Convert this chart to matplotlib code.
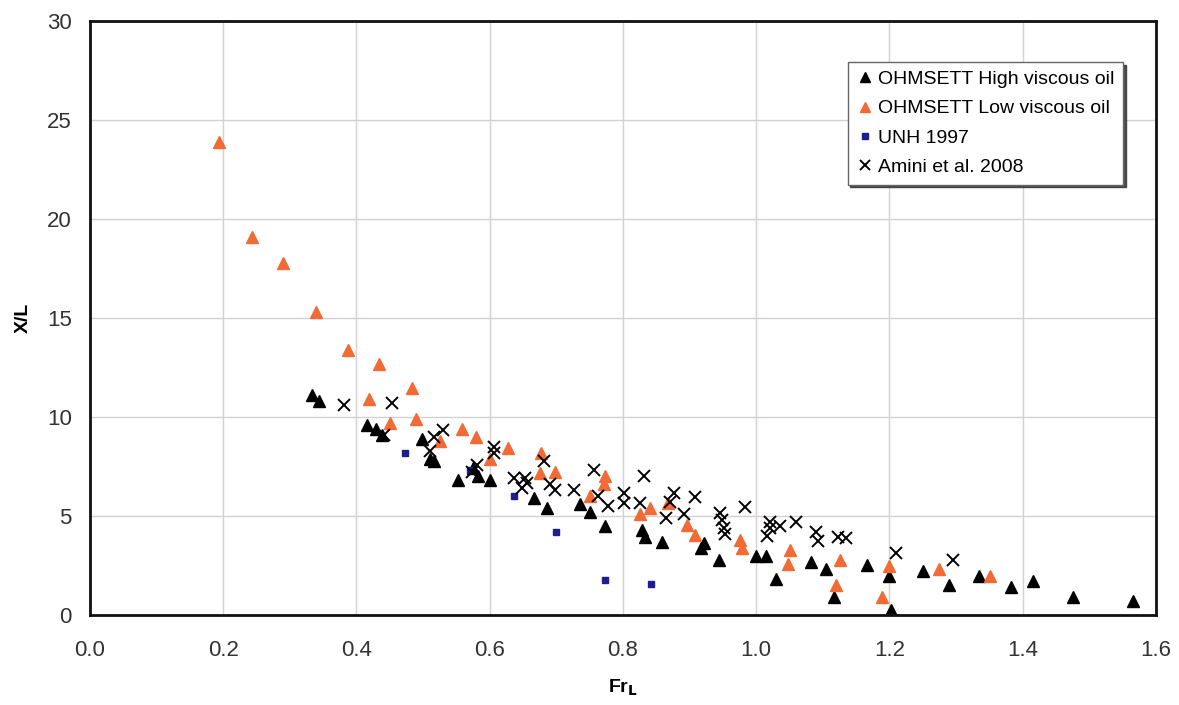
import matplotlib
matplotlib.use("Agg")
import matplotlib.pyplot as plt

plt.rcParams['font.family'] = ['Liberation Sans', 'DejaVu Sans']

# OHMSETT high viscous oil
high_x = [0.333, 0.344, 0.416, 0.429, 0.438, 0.499, 0.511, 0.516, 0.553, 0.575,
          0.583, 0.601, 0.667, 0.686, 0.736, 0.751, 0.773, 0.828, 0.833, 0.858,
          0.921, 0.917, 0.944, 1.000, 1.014, 1.030, 1.082, 1.105, 1.116, 1.166,
          1.199, 1.203, 1.250, 1.290, 1.334, 1.382, 1.416, 1.475, 1.566]
high_y = [11.1, 10.8, 9.6, 9.4, 9.1, 8.9, 7.9, 7.8, 6.8, 7.4,
          7.0, 6.8, 5.9, 5.4, 5.6, 5.2, 4.5, 4.3, 3.95, 3.7,
          3.65, 3.4, 2.8, 3.0, 3.0, 1.8, 2.7, 2.3, 0.9, 2.5,
          1.95, 0.25, 2.2, 1.5, 1.95, 1.4, 1.7, 0.9, 0.7]

# OHMSETT low viscous oil
low_x = [0.194, 0.243, 0.290, 0.339, 0.387, 0.434, 0.483, 0.419, 0.450, 0.489,
         0.526, 0.559, 0.580, 0.601, 0.628, 0.677, 0.676, 0.698, 0.751, 0.773,
         0.771, 0.826, 0.841, 0.868, 0.896, 0.908, 0.976, 0.978, 1.050, 1.048,
         1.126, 1.119, 1.200, 1.189, 1.275, 1.351]
low_y = [23.9, 19.1, 17.8, 15.3, 13.4, 12.7, 11.45, 10.9, 9.7, 9.9,
         8.8, 9.4, 9.0, 7.9, 8.45, 8.2, 7.15, 7.2, 6.0, 7.0,
         6.6, 5.1, 5.4, 5.65, 4.55, 4.05, 3.8, 3.4, 3.3, 2.6,
         2.8, 1.5, 2.45, 0.9, 2.3, 1.95]

# UNH 1997
unh_x = [0.473, 0.571, 0.637, 0.700, 0.773, 0.842]
unh_y = [8.2, 7.3, 6.0, 4.2, 1.75, 1.55]

# Amini et al. 2008
amini_x = [0.382, 0.454, 0.442, 0.516, 0.530, 0.511, 0.581, 0.573, 0.606, 0.606,
           0.636, 0.653, 0.656, 0.648, 0.681, 0.691, 0.698, 0.726, 0.756, 0.763,
           0.778, 0.801, 0.801, 0.831, 0.826, 0.864, 0.876, 0.871, 0.891, 0.908,
           0.946, 0.948, 0.951, 0.953, 0.983, 1.021, 1.021, 1.016, 1.036, 1.059,
           1.090, 1.092, 1.123, 1.135, 1.210, 1.296]
amini_y = [10.6, 10.7, 9.1, 9.0, 9.35, 8.3, 7.6, 7.2, 8.5, 8.2,
           6.9, 6.9, 6.65, 6.4, 7.8, 6.6, 6.3, 6.3, 7.3, 6.0,
           5.5, 6.15, 5.65, 7.0, 5.65, 4.9, 6.15, 5.7, 5.1, 5.95,
           5.15, 4.8, 4.4, 4.1, 5.45, 4.7, 4.4, 4.0, 4.5, 4.7,
           4.2, 3.75, 3.95, 3.9, 3.15, 2.8]

fig = plt.figure(figsize=(11.79, 7.05), dpi=100)
ax = fig.add_axes([0.0763, 0.1277, 0.9042, 0.8423])

ax.plot(high_x, high_y, '^', color='black', ms=8, ls='none', label='OHMSETT High viscous oil')
ax.plot(low_x, low_y, '^', color='#F26A35', ms=8, ls='none', label='OHMSETT Low viscous oil')
ax.plot(unh_x, unh_y, 's', color='#1E1E8C', ms=5, ls='none', label='UNH 1997')
ax.plot(amini_x, amini_y, 'x', color='black', ms=8.5, mew=1.4, ls='none', label='Amini et al. 2008')

ax.set_xlim(0, 1.6)
ax.set_ylim(0, 30)
ax.set_xticks([0.0, 0.2, 0.4, 0.6, 0.8, 1.0, 1.2, 1.4, 1.6])
ax.set_xticklabels(['0.0', '0.2', '0.4', '0.6', '0.8', '1.0', '1.2', '1.4', '1.6'])
ax.set_yticks(range(0, 31, 5))
ax.grid(True, color='#d6cfd6', lw=1)
ax.set_axisbelow(True)
ax.tick_params(length=0, labelsize=16, colors='#333333')
ax.tick_params(axis='x', pad=18)
ax.tick_params(axis='y', pad=13)
for s in ax.spines.values():
    s.set_linewidth(2)
    s.set_color('#111111')

ax.set_xlabel('Fr$_\\mathbf{L}$', fontsize=14, fontweight='bold', labelpad=12)
ax.set_ylabel('X/L', fontsize=14, fontweight='bold', labelpad=11)

leg = ax.legend(loc='upper right', bbox_to_anchor=(0.978, 0.948), fontsize=14,
                frameon=True, fancybox=False,
                shadow={'color': '#333333', 'alpha': 0.85},
                handlelength=0.9, handletextpad=0.2, borderpad=0.45,
                labelspacing=0.6, markerscale=0.85)
leg.get_frame().set_edgecolor('#666666')
leg.get_frame().set_linewidth(1)

fig.savefig('out.png', dpi=100)
